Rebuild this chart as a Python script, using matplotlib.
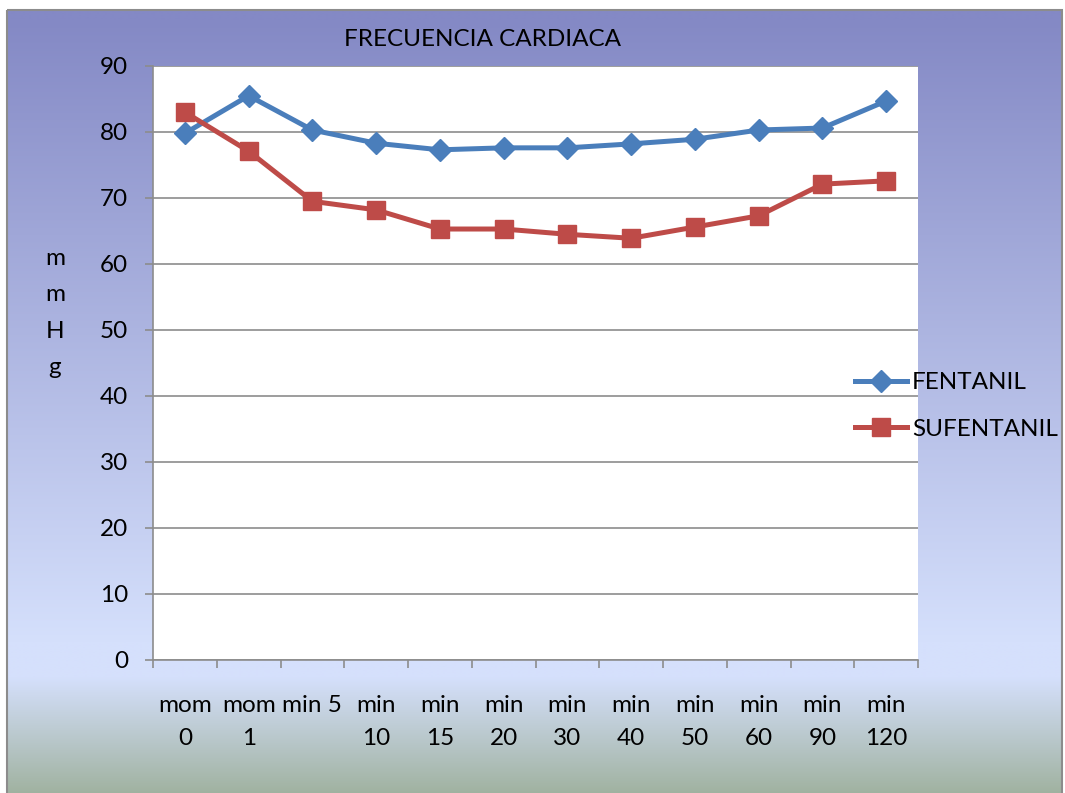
import numpy as np
import matplotlib
matplotlib.use("Agg")
import matplotlib.pyplot as plt
from matplotlib.patches import Rectangle

categories = ["mom\n0", "mom\n1", "min 5\n ", "min\n10", "min\n15", "min\n20",
              "min\n30", "min\n40", "min\n50", "min\n60", "min\n90", "min\n120"]
fentanil = [79.8, 85.5, 80.3, 78.3, 77.3, 77.6, 77.6, 78.2, 78.9, 80.3, 80.6, 84.7]
sufentanil = [83.0, 77.1, 69.5, 68.2, 65.3, 65.3, 64.5, 63.9, 65.6, 67.3, 72.1, 72.6]
yticks = list(range(0, 91, 10))

plt.rcParams['font.family'] = ['Lato', 'DejaVu Sans']
FS = 17.5

W, H = 1065, 793
fig = plt.figure(figsize=(W / 100, H / 100), dpi=100)
fig.patch.set_facecolor('white')

# background gradient
bg = fig.add_axes([0, 0, 1, 1], zorder=0)
bg.axis('off')
ys = np.arange(H)
top = np.array([132, 137, 197]) / 255
mid = np.array([213, 224, 252]) / 255
bot = np.array([160, 178, 160]) / 255
cols = np.zeros((H, 3))
for i, y in enumerate(ys):
    if y < 640:
        t = (y - 10) / 630
        t = min(max(t, 0), 1)
        cols[i] = top * (1 - t) + mid * t
    elif y < 675:
        cols[i] = mid
    else:
        t = (y - 675) / (H - 675)
        cols[i] = mid * (1 - t) + bot * t
img = np.repeat(cols[:, None, :], 2, axis=1)
bg.imshow(img, extent=[7, 1062, H, 10], aspect='auto', interpolation='bilinear')
bg.add_patch(Rectangle((7, 10), 1055, H, fill=False, edgecolor='#8c8c8c', lw=1.5))
bg.set_xlim(0, W)
bg.set_ylim(H, 0)

# plot area
l, r, t_, b = 153, 918, 66, 660
ax = fig.add_axes([l / W, 1 - b / H, (r - l) / W, (b - t_) / H], zorder=2)
ax.set_facecolor('white')
x = np.arange(len(categories))
ax.plot(x, fentanil, color='#4a7ebb', lw=3.6, marker='D', markersize=11,
        label='FENTANIL', zorder=3)
ax.plot(x, sufentanil, color='#be4b48', lw=3.6, marker='s', markersize=13,
        label='SUFENTANIL', zorder=3)
ax.set_xlim(-0.5, len(categories) - 0.5)
ax.set_ylim(0, 90)
ax.set_yticks(yticks)
ax.yaxis.grid(True, color='#8c8c8c', lw=1.2)
ax.set_axisbelow(True)
ax.set_xticks(np.arange(-0.5, len(categories), 1.0))
ax.set_xticklabels([])
ax.set_xticks(x, minor=True)
ax.set_xticklabels(categories, minor=True, fontsize=FS, linespacing=1.72)
ax.tick_params(axis='x', which='major', length=6, color='#8c8c8c', width=1.2, direction='out')
ax.tick_params(axis='x', which='minor', length=0, pad=25)
ax.tick_params(axis='y', length=6, color='#8c8c8c', width=1.2, labelsize=FS, pad=12)
for s in ['top', 'right']:
    ax.spines[s].set_visible(False)
for s in ['left', 'bottom']:
    ax.spines[s].set_color('#8c8c8c')
    ax.spines[s].set_linewidth(1.2)

fig.text(482 / W, 1 - 40 / H, 'FRECUENCIA CARDIACA', ha='center', va='center', fontsize=FS)
fig.text(55 / W, 1 - 313 / H, 'm\nm\nH\ng', ha='center', va='center', fontsize=FS,
         linespacing=1.9)

leg = ax.legend(loc='center left', bbox_to_anchor=(855 / W, 1 - 406 / H),
                bbox_transform=fig.transFigure, frameon=False, fontsize=FS,
                handlelength=2.15, handletextpad=0.2, labelspacing=1.05,
                borderpad=0, borderaxespad=0)
leg.set_zorder(10)

fig.savefig('out.png', dpi=100)
